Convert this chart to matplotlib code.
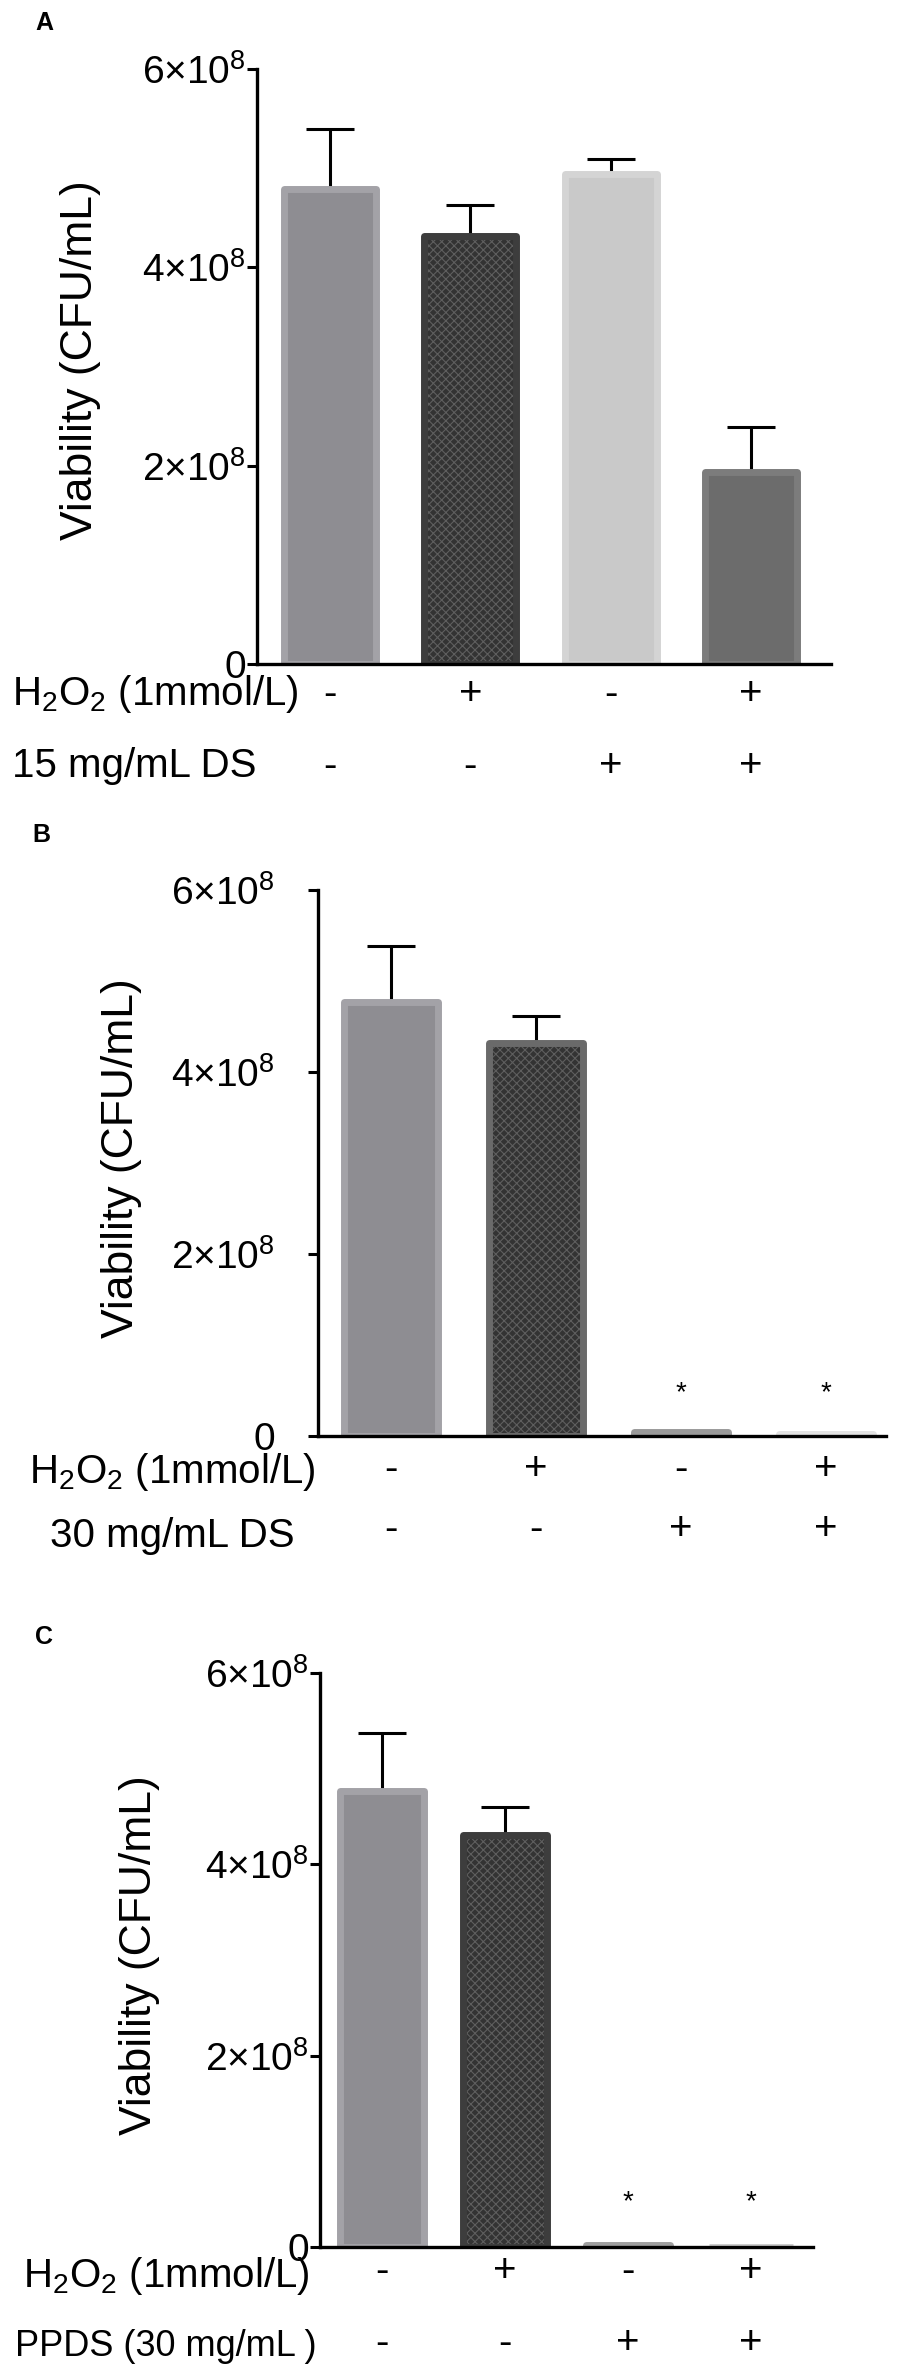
import matplotlib
matplotlib.use("Agg")
import matplotlib.pyplot as plt
import numpy as np
from matplotlib.transforms import blended_transform_factory

plt.rcParams['font.family'] = ['Liberation Sans', 'DejaVu Sans']
plt.rcParams['mathtext.fontset'] = 'custom'
plt.rcParams['mathtext.rm'] = 'Liberation Sans'
plt.rcParams['mathtext.it'] = 'Liberation Sans:italic'
plt.rcParams['mathtext.bf'] = 'Liberation Sans:bold'
plt.rcParams['mathtext.default'] = 'regular'
plt.rcParams['hatch.linewidth'] = 0.8

# ---------------- data ----------------
panel_names = ["A", "B", "C"]
h2o2_signs = ["-", "+", "-", "+"]
treat_signs = ["-", "-", "+", "+"]
row1_label = "H$_{2}$O$_{2}$ (1mmol/L)"
row2_labels = ["15 mg/mL DS", "30 mg/mL DS", "PPDS (30 mg/mL )"]
ytick_values = [0, 2e8, 4e8, 6e8]
ytick_labels = ["0", "2×10$^{8}$", "4×10$^{8}$", "6×10$^{8}$"]
ylabel_text = "Viability (CFU/mL)"

means_A = [4.79e8, 4.32e8, 4.94e8, 1.94e8]
err_A = [0.60e8, 0.31e8, 0.15e8, 0.45e8]
means_B = [4.77e8, 4.32e8, 0.045e8, 0.025e8]
err_B = [0.61e8, 0.30e8, 0.003e8, 0.004e8]
means_C = [4.77e8, 4.31e8, 0.025e8, 0.0]
err_C = [0.60e8, 0.29e8, np.nan, np.nan]
star_A = [False, False, False, False]
star_B = [False, False, True, True]
star_C = [False, False, True, True]
star_y = 0.47e8

face_A = ['#8e8d92', '#333333', '#c9c9c9', '#6c6c6c']
edge_A = ['#a3a2a7', '#3d3d3d', '#d4d4d4', '#7c7c7c']
face_B = ['#8e8d92', '#333333', '#8a8a8a', '#dcdcdc']
edge_B = ['#a3a2a7', '#6a6a6a', '#9a9a9a', '#e2e2e2']
face_C = ['#8e8d92', '#333333', '#8e8e8e', '#cccccc']
edge_C = ['#a3a2a7', '#3d3d3d', '#a0a0a0', '#cccccc']
checker = [False, True, False, False]

# ---------------- layout (pixels) ----------------
W, H = 911, 2377
fig = plt.figure(figsize=(W / 100, H / 100), dpi=100)

layouts = [
    dict(L=257, R=831, top=69, zero=664, c0=330, pitch=140.3, bw=0.656, pad=1,
         lab=(12, 'left'), r1=(694, 694), r2=(766, 766), ylab=(81, 360), letter=(44, 23),
         r2size=29, r2family=['Liberation Sans', 'DejaVu Sans']),
    dict(L=318, R=886, top=890, zero=1436, c0=391, pitch=145.0, bw=0.650, pad=24,
         lab=(172, 'center'), r1=(1472, 1469), r2=(1536, 1529), ylab=(122, 1158), letter=(41, 835),
         r2size=29, r2family=['Liberation Sans', 'DejaVu Sans']),
    dict(L=320, R=813, top=1673, zero=2247, c0=382, pitch=123.0, bw=0.675, pad=1,
         lab=(166, 'center'), r1=(2276, 2271), r2=(2346, 2343), ylab=(139, 1955), letter=(44, 1637),
         r2size=26, r2family=['Liberation Sans Narrow', 'Liberation Sans', 'DejaVu Sans']),
]

all_means = [means_A, means_B, means_C]
all_errs = [err_A, err_B, err_C]
all_faces = [face_A, face_B, face_C]
all_edges = [edge_A, edge_B, edge_C]
all_stars = [star_A, star_B, star_C]

for i, lay in enumerate(layouts):
    ax = fig.add_axes([lay['L'] / W, 1 - lay['zero'] / H,
                       (lay['R'] - lay['L']) / W, (lay['zero'] - lay['top']) / H])
    x = np.arange(len(h2o2_signs))
    means = np.array(all_means[i])
    errs = np.array(all_errs[i])
    faces = all_faces[i]
    edges = all_edges[i]

    # fill
    ax.bar(x, means, lay['bw'], color=faces, linewidth=0, zorder=2)
    # checker texture
    idx = [k for k in range(len(x)) if checker[k]]
    ax.bar(x[idx], means[idx], lay['bw'], facecolor='none', edgecolor='#5e5e5e',
           linewidth=0, hatch='xxxx', zorder=2.1)
    # edges
    ax.bar(x, means, lay['bw'], facecolor='none', edgecolor=edges, linewidth=5,
           joinstyle='round', zorder=2.2)

    # upper error bars only
    ok = ~np.isnan(errs)
    eb = ax.errorbar(x[ok], means[ok], yerr=[np.zeros(ok.sum()), errs[ok]], fmt='none',
                     ecolor='black', elinewidth=2.2, capsize=17, capthick=2.2, zorder=2.15)
    eb[1][0].set_visible(False)

    for k, s in enumerate(all_stars[i]):
        if s:
            ax.text(x[k], star_y, "*", ha='center', va='center', fontsize=20, zorder=4)

    ax.set_ylim(0, 6e8)
    ax.set_xlim((lay['L'] - lay['c0']) / lay['pitch'], (lay['R'] - lay['c0']) / lay['pitch'])
    ax.set_yticks(ytick_values)
    ax.set_yticklabels(ytick_labels)
    ax.set_xticks([])
    for sp in ['top', 'right']:
        ax.spines[sp].set_visible(False)
    for sp in ['left', 'bottom']:
        ax.spines[sp].set_linewidth(2.4)
        ax.spines[sp].set_zorder(5)
    ax.tick_params(axis='y', length=7, width=2.2, labelsize=28, pad=lay['pad'])
    ax.patch.set_alpha(0)

    # sign rows
    tr = blended_transform_factory(ax.transData, fig.transFigure)
    for k in range(len(x)):
        ax.text(x[k], 1 - lay['r1'][1] / H, h2o2_signs[k], transform=tr, ha='center',
                va='center', fontsize=29, clip_on=False)
        ax.text(x[k], 1 - lay['r2'][1] / H, treat_signs[k], transform=tr, ha='center',
                va='center', fontsize=29, clip_on=False)

    fig.text(lay['lab'][0] / W, 1 - lay['r1'][0] / H, row1_label, ha=lay['lab'][1],
             va='center', fontsize=29)
    fig.text(lay['lab'][0] / W, 1 - lay['r2'][0] / H, row2_labels[i], ha=lay['lab'][1],
             va='center', fontsize=lay['r2size'], family=lay['r2family'])

    fig.text(lay['ylab'][0] / W, 1 - lay['ylab'][1] / H, ylabel_text, rotation=90,
             ha='center', va='center', fontsize=32)
    fig.text(lay['letter'][0] / W, 1 - lay['letter'][1] / H, panel_names[i],
             ha='center', va='center', fontsize=18, fontweight='bold')

fig.savefig("out.png", dpi=100)
